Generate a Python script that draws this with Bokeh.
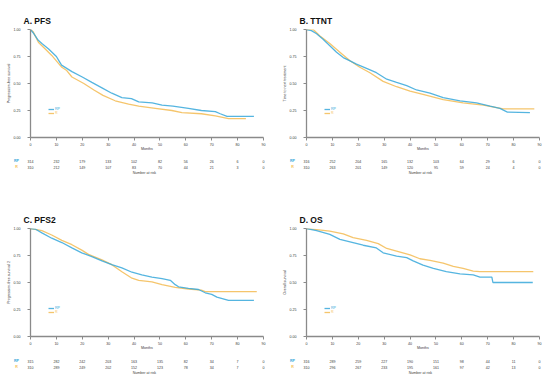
from bokeh.plotting import figure
from bokeh.models import (Range1d, FactorRange, Legend, ColumnDataSource,
                          PrintfTickFormatter)
from bokeh.core.properties import value
from bokeh.layouts import row, column
from bokeh.embed import file_html
from bokeh.resources import INLINE

# ---------------- data ----------------
MONTH_TICKS = [0, 10, 20, 30, 40, 50, 60, 70, 80, 90]
SURV_TICKS = [0, 0.25, 0.5, 0.75, 1.0]
GROUPS = ["RP", "R"]
RISK_TITLE = "Number at risk"

# A. PFS
pfs_rp_t = [0, 1, 3, 4.4, 7, 10, 11, 12, 16, 20, 23.7, 27.6, 31.4, 35.3, 39, 41.8, 47, 50.8, 55, 61, 66, 71.4, 73.3, 75.9, 86.3]
pfs_rp_s = [1.0, 0.97, 0.90, 0.87, 0.82, 0.75, 0.71, 0.67, 0.61, 0.56, 0.51, 0.46, 0.41, 0.37, 0.36, 0.33, 0.32, 0.30, 0.29, 0.27, 0.25, 0.24, 0.22, 0.195, 0.195]
pfs_r_t = [0, 1, 3.1, 5.7, 8.2, 12.1, 14, 16, 20.6, 24.5, 28, 32.7, 37.9, 41.8, 48.2, 54.6, 58.5, 66, 71.4, 76.5, 83.2]
pfs_r_s = [1.0, 0.98, 0.88, 0.82, 0.76, 0.65, 0.62, 0.56, 0.50, 0.44, 0.39, 0.34, 0.31, 0.29, 0.27, 0.25, 0.23, 0.22, 0.20, 0.175, 0.175]
pfs_rp_risk = [314, 232, 179, 133, 102, 82, 56, 26, 6, 0]
pfs_r_risk = [310, 212, 149, 107, 83, 70, 44, 21, 3, 0]

# B. TTNT
ttnt_rp_t = [0, 1.9, 3.9, 6.4, 9, 11.6, 14.2, 16.8, 19.3, 23.2, 27, 31, 34.8, 38.7, 42.5, 47.7, 52.8, 59.3, 65.7, 70.9, 74.7, 77.6, 86.3]
ttnt_rp_s = [1.0, 0.99, 0.96, 0.91, 0.85, 0.79, 0.74, 0.71, 0.68, 0.64, 0.60, 0.54, 0.51, 0.48, 0.44, 0.41, 0.37, 0.34, 0.32, 0.29, 0.27, 0.235, 0.23]
ttnt_r_t = [0, 2.6, 5.2, 9, 12.9, 16.8, 20.6, 24.5, 29.6, 34.8, 40, 45, 52.8, 60.5, 68.3, 76, 88]
ttnt_r_s = [1.0, 1.0, 0.94, 0.87, 0.79, 0.71, 0.65, 0.60, 0.52, 0.47, 0.43, 0.40, 0.35, 0.32, 0.30, 0.265, 0.265]
ttnt_rp_risk = [316, 252, 204, 165, 132, 103, 64, 29, 6, 0]
ttnt_r_risk = [310, 263, 201, 149, 120, 95, 59, 24, 4, 0]

# C. PFS2
pfs2_rp_t = [0, 1.8, 4.4, 8.2, 12.1, 16, 19.8, 23.7, 27.6, 31.4, 35.3, 39.2, 43, 46.9, 50.8, 54, 55.9, 57.2, 61, 64.9, 67.5, 70, 72, 76.5, 86.3]
pfs2_rp_s = [1.0, 0.995, 0.96, 0.91, 0.87, 0.82, 0.775, 0.74, 0.70, 0.665, 0.635, 0.595, 0.57, 0.55, 0.535, 0.52, 0.48, 0.46, 0.445, 0.435, 0.405, 0.39, 0.365, 0.335, 0.335]
pfs2_r_t = [0, 4.4, 8.2, 12.1, 16, 19.8, 22.4, 27.6, 31.4, 35.3, 39.2, 41.8, 46.9, 50.8, 55.9, 61, 66, 67.5, 87.4]
pfs2_r_s = [1.0, 0.98, 0.94, 0.89, 0.85, 0.80, 0.76, 0.71, 0.665, 0.60, 0.54, 0.52, 0.505, 0.48, 0.455, 0.44, 0.43, 0.415, 0.415]
pfs2_rp_risk = [315, 282, 242, 203, 163, 135, 82, 34, 7, 0]
pfs2_r_risk = [310, 289, 249, 202, 152, 123, 78, 34, 7, 0]

# D. OS
os_rp_t = [0, 3.9, 9, 12.9, 18, 21.9, 27, 29.6, 34.8, 38.7, 41.2, 45, 49, 54, 59.3, 64.4, 67, 71.6, 72, 87.4]
os_rp_s = [1.0, 0.98, 0.945, 0.90, 0.87, 0.845, 0.82, 0.775, 0.745, 0.73, 0.70, 0.66, 0.63, 0.60, 0.58, 0.57, 0.55, 0.55, 0.50, 0.50]
os_r_t = [0, 3.9, 9, 14.2, 18, 23.2, 27.7, 31, 34.8, 40, 43.8, 47.7, 52.8, 56.7, 60.5, 64.4, 67, 87.6]
os_r_s = [1.0, 0.99, 0.975, 0.95, 0.915, 0.89, 0.86, 0.815, 0.79, 0.755, 0.72, 0.705, 0.68, 0.65, 0.63, 0.605, 0.60, 0.60]
os_rp_risk = [316, 289, 259, 227, 190, 151, 98, 44, 11, 0]
os_r_risk = [310, 296, 267, 233, 195, 161, 97, 42, 13, 0]

# ---------------- style / layout ----------------
BLUE = "#37A8DA"
ORANGE = "#F4BF5C"
AXIS = "#8A8A8A"
TXT = "#3A3A3A"
FONT = "Liberation Sans"
SMALL = "3.6px"
FW, FH = 233, 108          # KM frame size in px
X0, X1 = 0, 90             # month range of KM frame
EXT_L, EXT_R = 22, 7       # extra px of risk-table frame left/right of KM frame
PXM = FW / (X1 - X0)


def style_axis(ax):
    ax.axis_line_color = AXIS
    ax.axis_line_width = 1.3
    ax.major_tick_line_color = AXIS
    ax.major_tick_line_width = 1
    ax.major_tick_out = 3
    ax.major_tick_in = 0
    ax.minor_tick_line_color = None
    ax.major_label_text_font = FONT
    ax.major_label_text_font_size = SMALL
    ax.major_label_text_color = TXT
    ax.axis_label_text_font = FONT
    ax.axis_label_text_font_size = SMALL
    ax.axis_label_text_font_style = "normal"
    ax.axis_label_text_color = TXT
    ax.axis_label_standoff = 0


def km_panel(title, ylabel, rp_t, rp_s, r_t, r_s, left, right, top):
    p = figure(frame_width=FW, frame_height=FH,
               x_range=Range1d(X0, X1), y_range=Range1d(0, 1),
               output_backend="svg", toolbar_location=None,
               min_border_left=left, min_border_right=right,
               min_border_top=top, min_border_bottom=14,
               title=title)
    p.outline_line_color = None
    p.grid.visible = False
    p.border_fill_color = "white"

    p.title.text_font = FONT
    p.title.text_font_size = "8.5px"
    p.title.text_font_style = "bold"
    p.title.text_color = "#111111"
    p.title.align = "left"
    p.title.offset = -7
    p.title.standoff = 8

    style_axis(p.xaxis[0])
    style_axis(p.yaxis[0])
    p.xaxis.ticker = MONTH_TICKS
    p.xaxis.axis_label = "Months"
    p.xaxis.major_label_standoff = 2
    p.xaxis.axis_label_standoff = -2
    p.yaxis.ticker = SURV_TICKS
    p.yaxis.formatter = PrintfTickFormatter(format="%.2f")
    p.yaxis.axis_label = ylabel
    p.yaxis.major_label_standoff = 7

    lr = p.line(r_t, r_s, line_color=ORANGE, line_width=1.3, line_alpha=0.9)
    lb = p.line(rp_t, rp_s, line_color=BLUE, line_width=1.3, line_alpha=0.85)

    for name, rend, col, ly in ((GROUPS[0], lb, BLUE, 26), (GROUPS[1], lr, ORANGE, 22)):
        lg = Legend(items=[(name, [rend])], location=(18, ly),
                    glyph_width=6, glyph_height=4, label_height=4,
                    label_standoff=1, spacing=0, padding=0, margin=0,
                    label_text_font=FONT, label_text_font_size=SMALL,
                    label_text_color=col, border_line_color=None,
                    background_fill_alpha=0)
        p.add_layout(lg)
    return p


def risk_panel(rp_risk, r_risk, km_left, km_right, top, bottom):
    rows = ["NaR", GROUPS[1], GROUPS[0]]
    r = figure(frame_width=FW + EXT_L + EXT_R, frame_height=17,
               x_range=Range1d(X0 - EXT_L / PXM, X1 + EXT_R / PXM),
               y_range=FactorRange(*rows),
               output_backend="svg", toolbar_location=None,
               x_axis_location=None, y_axis_location=None,
               min_border_left=km_left - EXT_L, min_border_right=km_right - EXT_R,
               min_border_top=top, min_border_bottom=bottom)
    r.outline_line_color = None
    r.grid.visible = False
    r.border_fill_color = "white"

    n = len(MONTH_TICKS)
    src = ColumnDataSource(dict(
        x=MONTH_TICKS * 2,
        y=[GROUPS[0]] * n + [GROUPS[1]] * n,
        t=[str(v) for v in rp_risk] + [str(v) for v in r_risk]))
    r.text(x="x", y="y", text="t", source=src, text_font=value(FONT),
           text_font_size=SMALL, text_color=TXT, text_align="center",
           text_baseline="middle")
    lab = ColumnDataSource(dict(x=[X0, X0], y=GROUPS, t=GROUPS, c=[BLUE, ORANGE]))
    r.text(x="x", y="y", text="t", source=lab, x_offset=-14,
           text_font=value(FONT), text_font_size=SMALL, text_font_style="bold",
           text_color="c", text_align="center", text_baseline="middle")
    r.text(x=[44], y=["NaR"], text=[RISK_TITLE], text_font=value(FONT),
           text_font_size=SMALL, text_color=TXT, text_align="center",
           text_baseline="middle")
    return r


kmA = km_panel("A. PFS", "Progression-free survival", pfs_rp_t, pfs_rp_s, pfs_r_t, pfs_r_s, 30, 12, 29)
kmB = km_panel("B. TTNT", "Time to next treatment", ttnt_rp_t, ttnt_rp_s, ttnt_r_t, ttnt_r_s, 31, 11, 29)
kmC = km_panel("C. PFS2", "Progression-free survival 2", pfs2_rp_t, pfs2_rp_s, pfs2_r_t, pfs2_r_s, 30, 12, 29)
kmD = km_panel("D. OS", "Overall survival", os_rp_t, os_rp_s, os_r_t, os_r_s, 31, 11, 29)

rkA = risk_panel(pfs_rp_risk, pfs_r_risk, 30, 12, 5, 24)
rkB = risk_panel(ttnt_rp_risk, ttnt_r_risk, 31, 11, 5, 24)
rkC = risk_panel(pfs2_rp_risk, pfs2_r_risk, 30, 12, 6, 11)
rkD = risk_panel(os_rp_risk, os_r_risk, 31, 11, 6, 11)

layout = column(row(kmA, kmB), row(rkA, rkB), row(kmC, kmD), row(rkC, rkD))
open("out.html", "w").write(file_html(layout, INLINE))
